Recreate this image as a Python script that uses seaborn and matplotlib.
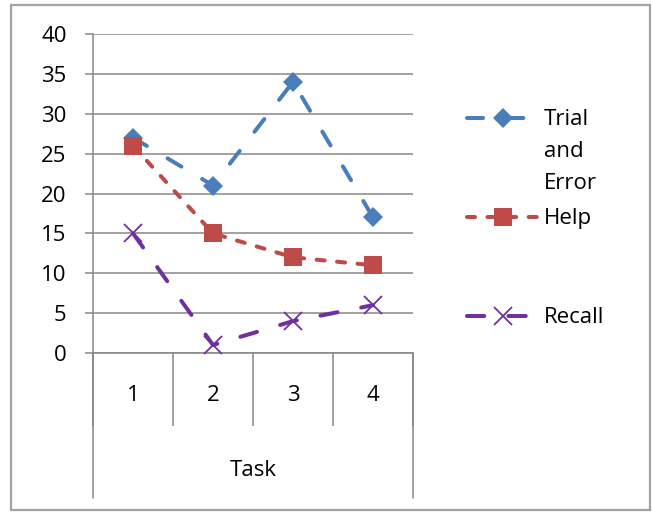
import matplotlib
matplotlib.use("Agg")
import matplotlib.pyplot as plt
import matplotlib.transforms as mtransforms
from matplotlib.patches import Rectangle
import seaborn as sns

# Chart data
tasks = ["1", "2", "3", "4"]
trial_and_error = [27, 21, 34, 17]
help_values = [26, 15, 12, 11]
recall = [15, 1, 4, 6]
series_labels = ["Trial\nand\nError", "Help", "Recall"]
y_ticks = [0, 5, 10, 15, 20, 25, 30, 35, 40]

sns.set_theme(style="white")
plt.rcParams["font.family"] = ["Open Sans", "DejaVu Sans"]

W, H = 652, 512
FS = 16
fig = plt.figure(figsize=(W / 100, H / 100), dpi=100)
ax = fig.add_axes([93 / W, 1 - 353 / H, 320 / W, 319 / H])

grey = "#878787"
positions = list(range(1, len(tasks) + 1))

styles = [
    dict(values=trial_and_error, color="#4A7EBB", marker="D", ms=10.5,
         mew=0, dash=(0, (4.0, 6.0))),
    dict(values=help_values, color="#BE4B48", marker="s", ms=13,
         mew=0, dash=(0, (2.0, 3.1))),
    dict(values=recall, color="#7030A0", marker="x", ms=13.5,
         mew=1.3, dash=(0, (4.3, 6.0))),
]

for spec, label in zip(styles, series_labels):
    sns.lineplot(x=positions, y=spec["values"], ax=ax, color=spec["color"],
                 linewidth=2.9, linestyle=spec["dash"], dash_capstyle="round",
                 marker=spec["marker"], markersize=spec["ms"],
                 markeredgewidth=spec["mew"], markeredgecolor=spec["color"],
                 markerfacecolor=spec["color"], label=label, legend=False,
                 clip_on=False, zorder=3)

# Value axis
ax.set_ylim(0, 40)
ax.set_yticks(y_ticks)
ax.set_yticklabels([str(v) for v in y_ticks], fontsize=FS, color="black")
ax.tick_params(axis="y", which="major", direction="out", length=6, width=1.1,
               color=grey, pad=13, left=True)
ax.yaxis.grid(True, color=grey, linewidth=1.1)
ax.set_axisbelow(True)

# Category axis
ax.set_xlim(0.5, 4.5)
ax.set_xticks(positions)
ax.set_xticklabels(tasks, fontsize=FS, color="black")
ax.tick_params(axis="x", which="major", length=0, pad=23)
ax.set_xticks([p + 0.5 for p in range(len(tasks) + 1)], minor=True)
ax.tick_params(axis="x", which="minor", direction="out", length=52.5,
               width=1.1, color=grey, bottom=True)
ax.set_xlabel("Task", fontsize=FS, color="black")
ax.xaxis.set_label_coords(0.5, -117 / 319)
ax.xaxis.label.set_va("center")

for side in ["top", "right"]:
    ax.spines[side].set_visible(False)
for side in ["left", "bottom"]:
    ax.spines[side].set_color(grey)
    ax.spines[side].set_linewidth(1.1)

# Outer category bracket lines
trans = mtransforms.blended_transform_factory(ax.transData, ax.transAxes)
for xe in (0.5, 4.5):
    ax.plot([xe, xe], [0, -145 / 319], transform=trans, color=grey,
            linewidth=1.1, clip_on=False)

# Legend: each entry gets a three-line slot, handle level with the first line
leg = fig.legend(loc="upper left", bbox_to_anchor=(467 / W, 1 - 109 / H),
                 frameon=False, fontsize=FS, handlelength=3.2,
                 handletextpad=0.27, borderpad=0, borderaxespad=0,
                 labelspacing=0.2, handleheight=1.0)
for t in leg.get_texts():
    t.set_linespacing(1.70)
    t.set_color("black")
columns = leg._legend_handle_box.get_children()
rows = [r for col in columns for r in col.get_children()]
for r in rows:
    r.align = "top"
fig.canvas.draw()
renderer = fig.canvas.get_renderer()
slot = rows[0].get_bbox(renderer).height
for r in rows:
    r.height = slot
for col in columns:
    col.sep = max(99 - slot, 0) * 72 / 100

# Chart frame
fig.patches.append(Rectangle((11 / W, 2 / H), 639 / W, 505 / H,
                             transform=fig.transFigure, fill=False,
                             edgecolor="#a3a3a3", linewidth=1.6))

fig.savefig("out.png", dpi=100)
